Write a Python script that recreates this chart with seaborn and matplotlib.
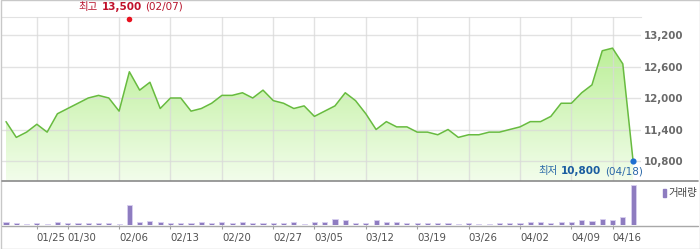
import numpy as np
import pandas as pd
import matplotlib
matplotlib.use('Agg')
import matplotlib.pyplot as plt
import seaborn as sns
from matplotlib.patches import Rectangle
from matplotlib.lines import Line2D
from matplotlib.offsetbox import TextArea, HPacker, AnnotationBbox
from matplotlib.colors import LinearSegmentedColormap

# ---------------- data ----------------
dates = ['01/18', '01/19', '01/20', '01/25', '01/26', '01/27', '01/30', '01/31',
         '02/01', '02/02', '02/03', '02/06', '02/07', '02/08', '02/09', '02/10',
         '02/13', '02/14', '02/15', '02/16', '02/17', '02/20', '02/21', '02/22',
         '02/23', '02/24', '02/27', '02/28', '02/29',
         '03/02', '03/05', '03/06', '03/07', '03/08', '03/09', '03/12', '03/13',
         '03/14', '03/15', '03/16', '03/19', '03/20', '03/21', '03/22', '03/23',
         '03/26', '03/27', '03/28', '03/29', '03/30',
         '04/02', '04/03', '04/04', '04/05', '04/06', '04/09', '04/10', '04/12',
         '04/13', '04/16', '04/17', '04/18']

close = [11550, 11250, 11350, 11500, 11350, 11700, 11800, 11900, 12000, 12050,
         12000, 11750, 12500, 12150, 12300, 11800, 12000, 12000, 11750, 11800,
         11900, 12050, 12050, 12100, 12000, 12150, 11950, 11900, 11800, 11850,
         11650, 11750, 11850, 12100, 11950, 11700, 11400, 11550, 11450, 11450,
         11350, 11350, 11300, 11400, 11250, 11300, 11300, 11350, 11350, 11400,
         11450, 11550, 11550, 11650, 11900, 11900, 12100, 12250, 12900, 12950,
         12650, 10800]

volume = [145, 110, 75, 125, 75, 160, 110, 95, 95, 125,
          110, 75, 995, 160, 210, 175, 125, 125, 125, 175,
          125, 160, 125, 160, 125, 95, 95, 125, 145, 75,
          160, 160, 325, 275, 125, 125, 275, 145, 145, 95,
          125, 125, 95, 125, 75, 125, 75, 75, 125, 95,
          125, 160, 160, 95, 160, 160, 260, 210, 325, 275,
          395, 2025]

tick_dates = ['01/25', '01/30', '02/06', '02/13', '02/20', '02/27', '03/05',
              '03/12', '03/19', '03/26', '04/02', '04/09', '04/16']
price_ticks = [10800, 11400, 12000, 12600, 13200]

high_date, high_value = '02/07', 13500
low_date, low_value = '04/18', 10800
volume_label = '거래량'

# ---------------- style ----------------
sns.set_style('white')
plt.rcParams['font.family'] = ['DejaVu Sans', 'Noto Sans CJK KR']

W, H = 700, 249
fig = plt.figure(figsize=(7, 2.49), dpi=100)


def fx(px):
    return px / W


def fy(py):
    return 1 - py / H


L, R = 2, 641
TOP, SEP, BOT = 17, 181, 225
ax_p = fig.add_axes([fx(L), fy(SEP), fx(R - L), (SEP - TOP) / H])
ax_v = fig.add_axes([fx(L), fy(BOT), fx(R - L), (BOT - SEP) / H], sharex=ax_p)

df = pd.DataFrame({'date': dates, 'close': close, 'volume': volume})
df['idx'] = np.arange(len(df))

x0, x1 = -0.39, len(df) - 1 + 0.77
y0, y1 = 10419, 13543

# gradient area fill
poly = ax_p.fill_between(df['idx'], df['close'], y0, facecolor='none',
                         edgecolor='none')
cmap = LinearSegmentedColormap.from_list('g', ['#f2fdeb', '#b0ec86'])
grad = np.linspace(0, 1, 256).reshape(-1, 1)
im = ax_p.imshow(grad, cmap=cmap, origin='lower', aspect='auto',
                 extent=[x0, x1, y0, y1], zorder=1, interpolation='bilinear')
im.set_clip_path(poly.get_paths()[0], transform=ax_p.transData)

sns.lineplot(data=df, x='idx', y='close', ax=ax_p, color='#68bb40',
             linewidth=1.1, zorder=3)

ax_p.set_xlim(x0, x1)
ax_p.set_ylim(y0, y1)

tick_idx = [dates.index(d) for d in tick_dates]
ax_p.set_xticks(tick_idx)
ax_p.set_yticks(price_ticks)
ax_p.set_yticklabels([f'{v:,}' for v in price_ticks])
ax_p.yaxis.tick_right()
ax_p.tick_params(axis='y', length=0, pad=2.3, labelsize=7.4,
                 labelcolor='#6a6a6a')
for lab in ax_p.get_yticklabels():
    lab.set_fontweight('bold')
ax_p.tick_params(axis='x', length=0, labelbottom=False)
ax_p.set_axisbelow(False)
ax_p.grid(True, color='#d9d9d9', linewidth=1, alpha=0.75)
for s in ['left', 'right', 'bottom']:
    ax_p.spines[s].set_visible(False)
ax_p.spines['top'].set_color('#e2e2e2')
ax_p.set_xlabel('')
ax_p.set_ylabel('')

# high / low markers
hi = dates.index(high_date)
lo = dates.index(low_date)
ax_p.scatter([hi], [high_value], s=16, color='#e8101e', zorder=6,
             clip_on=False, linewidths=0)
ax_p.scatter([lo], [low_value], s=20, color='#1f6fd0', zorder=6,
             clip_on=False, linewidths=0)


def label(ax, x, y, parts, xybox, align):
    areas = [TextArea(t, textprops=dict(color=c, fontsize=7.5, fontweight=w))
             for t, c, w in parts]
    box = HPacker(children=areas, align='baseline', pad=0, sep=2.4)
    ab = AnnotationBbox(box, (x, y), xybox=xybox, xycoords='data',
                        boxcoords='offset points', frameon=False,
                        box_alignment=align, annotation_clip=False, zorder=7)
    ax.add_artist(ab)


label(ax_p, hi, high_value,
      [('최고', '#b8142c', 'normal'), (f'{high_value:,}', '#c0102a', 'bold'),
       (f'({high_date})', '#b8142c', 'normal')],
      (1.0, 9.0), (0.5, 0.5))
label(ax_p, lo, low_value,
      [('최저', '#2a68a8', 'normal'), (f'{low_value:,}', '#1a5ca0', 'bold'),
       (f'({low_date})', '#2a68a8', 'normal')],
      (6.8, -7.3), (1.0, 0.5))

# volume bars
sns.barplot(data=df, x='idx', y='volume', ax=ax_v, native_scale=True,
            width=0.5, color='#8e7cc0', saturation=1, edgecolor='#d8d0f0',
            linewidth=0.6)
ax_v.set_xlim(x0, x1)
ax_v.set_ylim(0, max(volume) * 44 / 40)
ax_v.set_yticks([])
ax_v.set_xticks(tick_idx)
ax_v.set_xticklabels(tick_dates, ha='left')
ax_v.tick_params(axis='x', length=3.2, width=0.8, color='#a0a0a0', pad=2.2,
                 labelsize=7.3, labelcolor='#505050', bottom=True)
for s in ax_v.spines.values():
    s.set_visible(False)
ax_v.set_xlabel('')
ax_v.set_ylabel('')

# panel separators and outer frame
fig.add_artist(Line2D([fx(2), fx(698)], [fy(SEP), fy(SEP)], color='#8a8a8a',
                      linewidth=1.2, transform=fig.transFigure))
fig.add_artist(Line2D([fx(2), fx(698)], [fy(BOT + 0.5), fy(BOT + 0.5)],
                      color='#a8a8a8', linewidth=1.0,
                      transform=fig.transFigure))
fig.add_artist(Rectangle((fx(0.5), fy(248.5)), fx(699), (248) / H,
                         fill=False, edgecolor='#c8c8c8', linewidth=1,
                         transform=fig.transFigure))

# legend for volume
fig.add_artist(Rectangle((fx(663), fy(197)), fx(3), 8 / H, color='#8e7cc0',
                         transform=fig.transFigure))
fig.text(fx(668), fy(193), volume_label, fontsize=7.5, color='#444444',
         va='center', ha='left')

fig.savefig('out.png', dpi=100)
